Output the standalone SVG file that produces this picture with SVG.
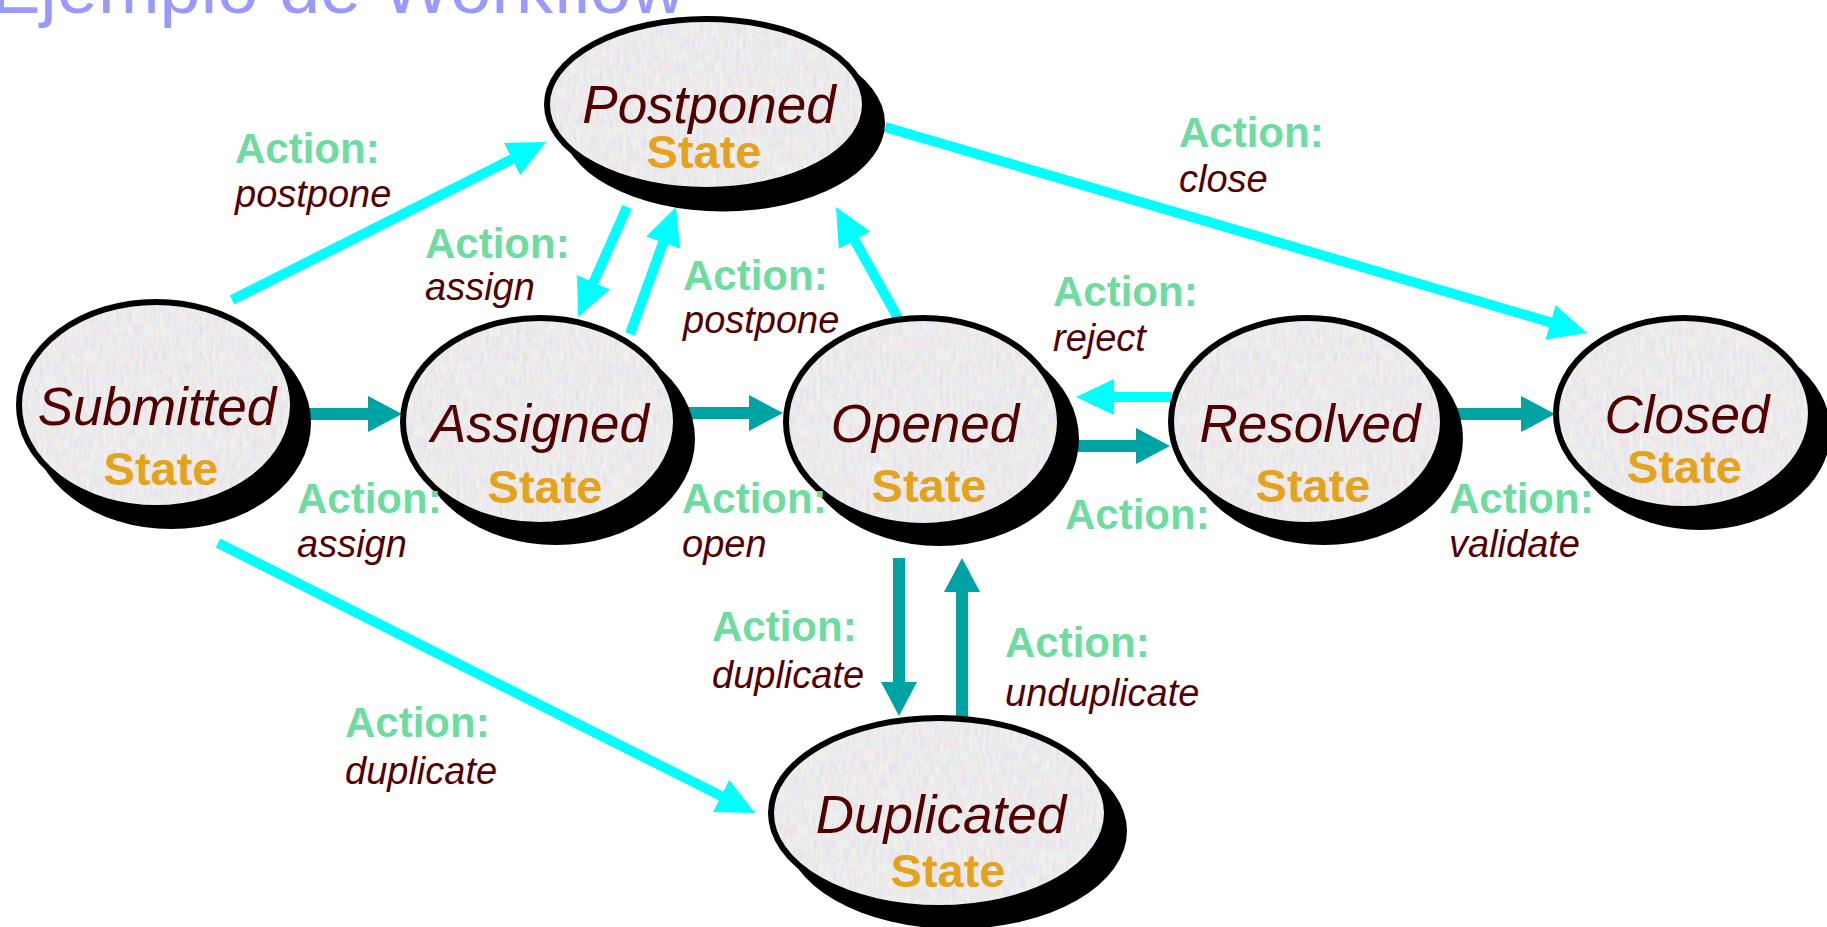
<svg xmlns="http://www.w3.org/2000/svg" width="1827" height="927" viewBox="0 0 1827 927">
<style>
text{font-family:"Liberation Sans",Arial,Helvetica,sans-serif}
.title{font-size:74px;fill:#9999ff}
.shadow{fill:#000}
.face{fill:#000;filter:url(#tex)}
.rim{fill:none;stroke:#000;stroke-width:6}
.name{font-style:italic;font-size:53px;fill:#520000;text-anchor:middle}
.state{font-weight:bold;font-size:47px;fill:#e6a11d;text-anchor:middle}
.act{font-weight:bold;font-size:42px;fill:#6edc9f}
.an{font-style:italic;font-size:38px;fill:#520000}
.cy{stroke:#00ffff;stroke-width:10;fill:none;marker-end:url(#hc)}
.tl{stroke:#00a3a3;stroke-width:12;fill:none;marker-end:url(#ht)}
</style>
<defs>
<filter id="tex" x="0" y="0" width="1" height="1" color-interpolation-filters="sRGB">
<feTurbulence type="fractalNoise" baseFrequency="0.3 0.08" numOctaves="2" seed="5" result="n"/>
<feColorMatrix in="n" type="matrix" values="0.14 0 0 0 0.855  0 0.13 0 0 0.855  0 0 0.15 0 0.85  0 0 0 0 1" result="c"/>
<feComposite in="c" in2="SourceAlpha" operator="in"/>
</filter>
<marker id="hc" markerUnits="userSpaceOnUse" markerWidth="38" markerHeight="36" viewBox="0 0 38 36" refX="1" refY="18" orient="auto"><path d="M0,0 L38,18 L0,36 z" fill="#00ffff"/></marker>
<marker id="ht" markerUnits="userSpaceOnUse" markerWidth="34" markerHeight="36" viewBox="0 0 34 36" refX="1" refY="18" orient="auto"><path d="M0,0 L34,18 L0,36 z" fill="#00a3a3"/></marker>
</defs>
<rect width="1827" height="927" fill="#fff"/>
<text class="title" x="-9" y="13">Ejemplo de Workflow</text>

<g id="connectors">
<line class="cy" x1="232" y1="300" x2="512.9" y2="158.6"/>
<line class="cy" x1="627" y1="207" x2="593.1" y2="283.2"/>
<line class="cy" x1="630" y1="334" x2="663.4" y2="241.8"/>
<line class="cy" x1="898" y1="318" x2="854" y2="239.3"/>
<line class="cy" x1="885" y1="127" x2="1551.5" y2="322.6"/>
<line class="cy" x1="218" y1="543" x2="721.9" y2="796.4"/>
<line class="cy" x1="1171" y1="397" x2="1113" y2="397"/>
<line class="tl" x1="300" y1="414" x2="369" y2="414"/>
<line class="tl" x1="685" y1="413" x2="750" y2="413"/>
<line class="tl" x1="1070" y1="446" x2="1137" y2="446"/>
<line class="tl" x1="1455" y1="414" x2="1522" y2="414"/>
<line class="tl" x1="899" y1="558" x2="899" y2="683"/>
<line class="tl" x1="962" y1="718" x2="962" y2="591"/>
</g>

<g id="node-submitted">
<ellipse class="shadow" cx="171" cy="423" rx="140" ry="106"/>
<ellipse class="face" cx="156" cy="405" rx="137" ry="103"/>
<ellipse class="rim" cx="156" cy="405" rx="137" ry="103"/>
<text class="name" x="157" y="425">Submitted</text>
<text class="state" x="161" y="485">State</text>
</g>

<g id="node-postponed">
<ellipse class="shadow" cx="723" cy="123" rx="162" ry="88.5"/>
<ellipse class="face" cx="706" cy="104.5" rx="159" ry="85.5"/>
<ellipse class="rim" cx="706" cy="104.5" rx="159" ry="85.5"/>
<text class="name" x="709" y="123">Postponed</text>
<text class="state" x="704" y="168">State</text>
</g>

<g id="node-assigned">
<ellipse class="shadow" cx="556" cy="439" rx="139" ry="106"/>
<ellipse class="face" cx="539.5" cy="421.5" rx="136.5" ry="103.5"/>
<ellipse class="rim" cx="539.5" cy="421.5" rx="136.5" ry="103.5"/>
<text class="name" x="540" y="442">Assigned</text>
<text class="state" x="545" y="503">State</text>
</g>

<g id="node-opened">
<ellipse class="shadow" cx="939" cy="439" rx="140" ry="107"/>
<ellipse class="face" cx="923" cy="422" rx="137" ry="104"/>
<ellipse class="rim" cx="923" cy="422" rx="137" ry="104"/>
<text class="name" x="925" y="442">Opened</text>
<text class="state" x="929" y="502">State</text>
</g>

<g id="node-resolved">
<ellipse class="shadow" cx="1324" cy="438.5" rx="139" ry="106.5"/>
<ellipse class="face" cx="1307" cy="421.5" rx="136" ry="103.5"/>
<ellipse class="rim" cx="1307" cy="421.5" rx="136" ry="103.5"/>
<text class="name" x="1310" y="442">Resolved</text>
<text class="state" x="1313" y="502">State</text>
</g>

<g id="node-closed">
<ellipse class="shadow" cx="1700" cy="431.5" rx="130.5" ry="98.5"/>
<ellipse class="face" cx="1683.5" cy="413.5" rx="127.5" ry="95.5"/>
<ellipse class="rim" cx="1683.5" cy="413.5" rx="127.5" ry="95.5"/>
<text class="name" x="1687" y="433">Closed</text>
<text class="state" x="1684.5" y="483">State</text>
</g>

<g id="node-duplicated">
<ellipse class="shadow" cx="956" cy="831" rx="171" ry="98"/>
<ellipse class="face" cx="939" cy="813" rx="168" ry="95"/>
<ellipse class="rim" cx="939" cy="813" rx="168" ry="95"/>
<text class="name" x="941" y="833">Duplicated</text>
<text class="state" x="948" y="887">State</text>
</g>

<g id="labels">
<text class="act" x="235" y="163">Action:</text>
<text class="an" x="235" y="207">postpone</text>
<text class="act" x="425" y="258">Action:</text>
<text class="an" x="425" y="300">assign</text>
<text class="act" x="683" y="290">Action:</text>
<text class="an" x="683" y="333">postpone</text>
<text class="act" x="1179" y="147">Action:</text>
<text class="an" x="1179" y="192">close</text>
<text class="act" x="1053" y="306">Action:</text>
<text class="an" x="1053" y="351">reject</text>
<text class="act" x="297" y="513">Action:</text>
<text class="an" x="297" y="557">assign</text>
<text class="act" x="682" y="513">Action:</text>
<text class="an" x="682" y="557">open</text>
<text class="act" x="1065" y="529">Action:</text>
<text class="act" x="1449" y="513">Action:</text>
<text class="an" x="1449" y="557">validate</text>
<text class="act" x="712" y="641">Action:</text>
<text class="an" x="712" y="688">duplicate</text>
<text class="act" x="1005" y="657">Action:</text>
<text class="an" x="1005" y="706">unduplicate</text>
<text class="act" x="345" y="737">Action:</text>
<text class="an" x="345" y="784">duplicate</text>
</g>
</svg>
